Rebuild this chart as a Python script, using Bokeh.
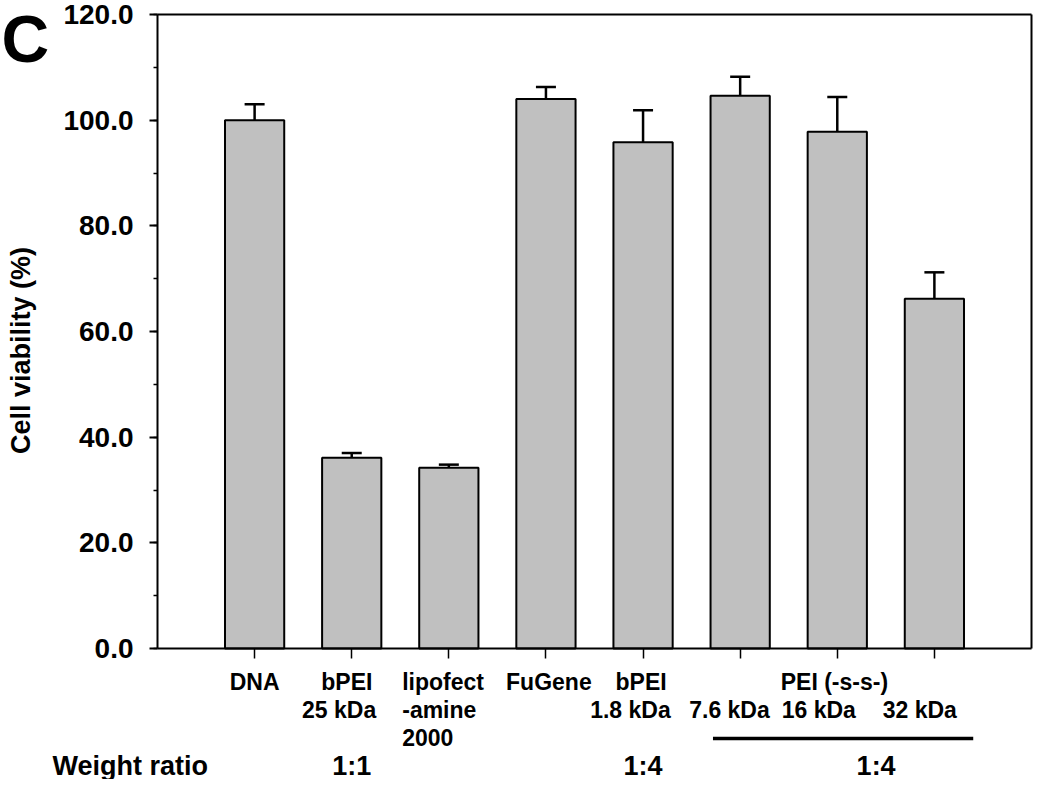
import math
from bokeh.plotting import figure
from bokeh.models import (Range1d, SingleIntervalTicker, FixedTicker, NumeralTickFormatter,
                          LinearAxis, Whisker, TeeHead, ColumnDataSource, Label)
from bokeh.embed import file_html
from bokeh.resources import INLINE

# ---------------- data ----------------
categories = ["DNA", "bPEI 25 kDa", "lipofectamine 2000", "FuGene", "bPEI 1.8 kDa",
              "PEI (-s-s-) 7.6 kDa", "PEI (-s-s-) 16 kDa", "PEI (-s-s-) 32 kDa"]
viability = [100.0, 36.1, 34.2, 104.0, 95.8, 104.6, 97.8, 66.2]
errors = [3.0, 0.9, 0.6, 2.3, 6.1, 3.6, 6.6, 5.0]
y_max = 120
y_tick_step = 20

# category label lines: (category index, text, row, x offset in bar units, align)
label_lines = [
    (0, "DNA", 0, 0.0, "center"),
    (1, "bPEI", 0, -0.05, "center"),
    (1, "25 kDa", 1, -0.13, "center"),
    (2, "lipofect", 0, -0.48, "left"),
    (2, "-amine", 1, -0.48, "left"),
    (2, "2000", 2, -0.48, "left"),
    (3, "FuGene", 0, 0.03, "center"),
    (4, "bPEI", 0, -0.02, "center"),
    (4, "1.8 kDa", 1, -0.13, "center"),
    (6, "PEI (-s-s-)", 0, -0.03, "center"),
    (5, "7.6 kDa", 1, -0.11, "center"),
    (6, "16 kDa", 1, -0.19, "center"),
    (7, "32 kDa", 1, -0.15, "center"),
]
ratio_title = "Weight ratio"
ratio_labels = ["1:1", "1:4", "1:4"]
ratio_pos = [1.0, 4.0, 6.4]
group_span = (5, 7)   # PEI (-s-s-) group under the bar line

# ---------------- layout (canvas pixels) ----------------
W, H = 1034, 779
X_LEFT, X_RIGHT = 157, 1031     # frame box left/right
Y_TOP, Y_ZERO = 14, 648         # y=120 and y=0
n = len(categories)
ppx = (X_RIGHT - X_LEFT) / (n + 1)
ppy = (Y_ZERO - Y_TOP) / y_max

def dx(px):   # canvas x -> data x
    return -1 + (px - X_LEFT) / ppx

def dy(py):   # canvas y -> data y
    return (Y_ZERO - py) / ppy

FONT = "Liberation Sans"

p = figure(width=W, height=H, x_range=Range1d(dx(0), dx(W)), y_range=Range1d(dy(H), dy(0)),
           output_backend="svg", toolbar_location=None,
           x_axis_type=None, y_axis_type=None,
           min_border_left=0, min_border_right=0, min_border_top=0, min_border_bottom=0)
p.background_fill_color = "white"
p.border_fill_color = "white"
p.outline_line_color = None
p.xgrid.visible = False
p.ygrid.visible = False

# left axis with ticks
yax = LinearAxis(fixed_location=-1, bounds=(0, y_max),
                 ticker=SingleIntervalTicker(interval=y_tick_step, num_minor_ticks=2),
                 formatter=NumeralTickFormatter(format="0.0"))
yax.major_label_text_font = FONT
yax.major_label_text_font_style = "bold"
yax.major_label_text_font_size = "28px"
yax.major_label_text_color = "black"
yax.major_label_standoff = 16
yax.axis_line_width = 2
yax.major_tick_out = 8
yax.major_tick_in = 0
yax.minor_tick_out = 4
yax.minor_tick_in = 0
yax.major_tick_line_width = 2
yax.minor_tick_line_width = 1.5
p.add_layout(yax, "left")

# bottom axis: category ticks (unlabelled)
xax = LinearAxis(fixed_location=0, bounds=(-1, n),
                 ticker=FixedTicker(ticks=[], minor_ticks=list(range(n))))
xax.axis_line_width = 2
xax.minor_tick_out = 10
xax.minor_tick_in = 0
xax.minor_tick_line_width = 1.5
xax.major_tick_line_color = None
p.add_layout(xax, "below")

# top and right frame lines
tax = LinearAxis(fixed_location=y_max, bounds=(-1, n), ticker=FixedTicker(ticks=[]))
tax.axis_line_width = 2
tax.major_tick_line_color = None
tax.minor_tick_line_color = None
p.add_layout(tax, "above")
rax = LinearAxis(fixed_location=n, bounds=(0, y_max), ticker=FixedTicker(ticks=[]))
rax.axis_line_width = 2
rax.major_tick_line_color = None
rax.minor_tick_line_color = None
p.add_layout(rax, "right")

idx = list(range(n))
src = ColumnDataSource(dict(x=idx, top=viability,
                            upper=[v + e for v, e in zip(viability, errors)]))

p.vbar(x="x", top="top", width=0.61, bottom=0, source=src,
       fill_color="#c0c0c0", line_color="black", line_width=2)

wh = Whisker(base="x", lower="top", upper="upper", source=src, dimension="height",
             line_color="black", line_width=2.5,
             upper_head=TeeHead(size=20, line_color="black", line_width=2.5),
             lower_head=None)
p.add_layout(wh)

row_py = [681, 709, 737]
for ci, txt, row, off, align in label_lines:
    p.add_layout(Label(x=ci + off, y=dy(row_py[row]), text=txt,
                       text_align=align, text_baseline="middle",
                       text_font=FONT, text_font_style="bold",
                       text_font_size="23px", text_color="black"))

ratio_py = 765
p.add_layout(Label(x=dx(52), y=dy(ratio_py), text=ratio_title,
                   text_align="left", text_baseline="middle",
                   text_font=FONT, text_font_style="bold",
                   text_font_size="27px", text_color="black"))
for pos, txt in zip(ratio_pos, ratio_labels):
    p.add_layout(Label(x=pos, y=dy(ratio_py), text=txt,
                       text_align="center", text_baseline="middle",
                       text_font=FONT, text_font_style="bold",
                       text_font_size="27px", text_color="black"))

# group bar under PEI (-s-s-)
p.segment(x0=[group_span[0] - 0.28], x1=[group_span[1] + 0.40],
          y0=[dy(738)], y1=[dy(738)], line_color="black", line_width=3.5)

# y axis title
p.add_layout(Label(x=dx(20), y=dy(350), text="Cell viability (%)", angle=math.pi / 2,
                   text_align="center", text_baseline="middle",
                   text_font=FONT, text_font_style="bold",
                   text_font_size="27px", text_color="black"))

# panel letter
p.add_layout(Label(x=dx(1), y=dy(38), text="C", text_align="left",
                   text_baseline="middle",
                   text_font=FONT, text_font_style="bold",
                   text_font_size="66px", text_color="black"))

open("out.html", "w").write(file_html(p, INLINE))
